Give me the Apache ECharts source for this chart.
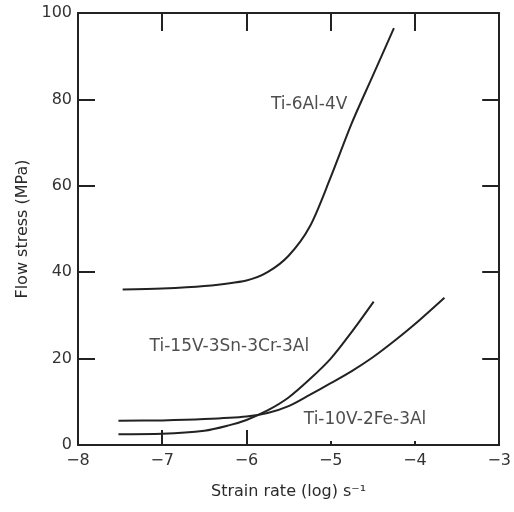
<!DOCTYPE html>
<html>
<head>
<meta charset="utf-8">
<script src="https://cdn.jsdelivr.net/npm/echarts@6/dist/echarts.min.js"></script>
<style>
  html, body { margin: 0; padding: 0; background: #fff; }
  #chart { width: 514px; height: 512px; }
</style>
</head>
<body>
<div id="chart"></div>
<script>
// strain rate (log s^-1) vs flow stress (MPa)
const ti64X = [-7.47, -7.0, -6.5, -6.0, -5.75, -5.5, -5.25, -5.0, -4.75, -4.5, -4.25];
const ti64Y = [36.0, 36.2, 36.8, 38.1, 40.0, 43.8, 50.5, 62.0, 74.5, 85.5, 96.5];

const ti15X = [-7.52, -7.0, -6.5, -6.2, -6.0, -5.75, -5.5, -5.25, -5.0, -4.75, -4.49];
const ti15Y = [2.5, 2.6, 3.3, 4.6, 5.8, 8.0, 11.0, 15.2, 20.0, 26.2, 33.2];

const ti10X = [-7.52, -7.0, -6.5, -6.0, -5.75, -5.5, -5.25, -5.0, -4.75, -4.5, -4.25, -4.0, -3.65];
const ti10Y = [5.6, 5.7, 6.0, 6.6, 7.4, 9.0, 11.6, 14.3, 17.1, 20.3, 24.0, 28.0, 34.1];

// curve names and where their labels sit (data coords, left edge)
const alloyNames = ["Ti-6Al-4V", "Ti-15V-3Sn-3Cr-3Al", "Ti-10V-2Fe-3Al"];
const labelX = [-5.71, -7.15, -5.32];
const labelY = [78.9, 22.7, 5.8];

// bottom ticks: long ones on the left, short stubs on the right
const longBottomTicks = [-7, -6];
const shortBottomTicks = [-5, -4];

const pairs = (xs, ys) => xs.map((x, i) => [x, ys[i]]);

const ink = "#222";
const font = "DejaVu Sans";

const chart = echarts.init(document.getElementById("chart"));

const lineSeries = (name, xs, ys) => ({
  name: name,
  type: "line",
  data: pairs(xs, ys),
  smooth: 0.3,
  showSymbol: false,
  lineStyle: { color: ink, width: 2 },
  z: 3,
});

const minusFmt = (v) => (v < 0 ? "\u2212" + Math.abs(v) : String(v));

// frame axes: ticks point inward, no labels on top/right
const frameLine = { show: true, onZero: false, lineStyle: { color: ink, width: 2 } };
const frameTick = (len) => ({ show: true, inside: true, length: len, lineStyle: { color: ink, width: 2 } });

let option = {
  backgroundColor: "#fff",
  animation: false,
  grid: { left: 78, right: 12, top: 13, bottom: 67 },
  xAxis: [
    {
      type: "value",
      min: -8,
      max: -3,
      interval: 1,
      name: "Strain rate (log) s\u207B\u00B9",
      nameLocation: "middle",
      nameGap: 39,
      nameTextStyle: { fontFamily: font, fontSize: 16, color: "#2a2a2a" },
      axisLine: frameLine,
      axisTick: Object.assign(frameTick(15), { customValues: longBottomTicks }),
      axisLabel: { fontFamily: font, fontSize: 16, color: "#333", margin: 8, formatter: minusFmt },
      splitLine: { show: false },
    },
    {
      type: "value",
      position: "top",
      min: -8,
      max: -3,
      interval: 1,
      axisLine: frameLine,
      axisTick: frameTick(18),
      axisLabel: { show: false },
      splitLine: { show: false },
    },
    {
      type: "value",
      position: "bottom",
      min: -8,
      max: -3,
      interval: 1,
      axisLine: { show: false, onZero: false },
      axisTick: Object.assign(frameTick(4), { customValues: shortBottomTicks }),
      axisLabel: { show: false },
      splitLine: { show: false },
    },
  ],
  yAxis: [
    {
      type: "value",
      min: 0,
      max: 100,
      interval: 20,
      name: "Flow stress (MPa)",
      nameLocation: "middle",
      nameGap: 47,
      nameTextStyle: { fontFamily: font, fontSize: 16, color: "#2a2a2a" },
      axisLine: frameLine,
      axisTick: frameTick(17),
      axisLabel: { fontFamily: font, fontSize: 16, color: "#333", margin: 6 },
      splitLine: { show: false },
    },
    {
      type: "value",
      position: "right",
      min: 0,
      max: 100,
      interval: 20,
      axisLine: frameLine,
      axisTick: frameTick(17),
      axisLabel: { show: false },
      splitLine: { show: false },
    },
  ],
  series: [
    lineSeries(alloyNames[0], ti64X, ti64Y),
    lineSeries(alloyNames[1], ti15X, ti15Y),
    lineSeries(alloyNames[2], ti10X, ti10Y),
    {
      // curve labels
      type: "scatter",
      symbolSize: 0,
      silent: true,
      data: alloyNames.map((n, i) => ({ name: n, value: [labelX[i], labelY[i]] })),
      label: {
        show: true,
        position: "right",
        distance: 0,
        formatter: "{b}",
        fontFamily: font,
        fontSize: 17,
        color: "#222",
      },
      z: 4,
    },
  ],
};

option && chart.setOption(option);
</script>
</body>
</html>
